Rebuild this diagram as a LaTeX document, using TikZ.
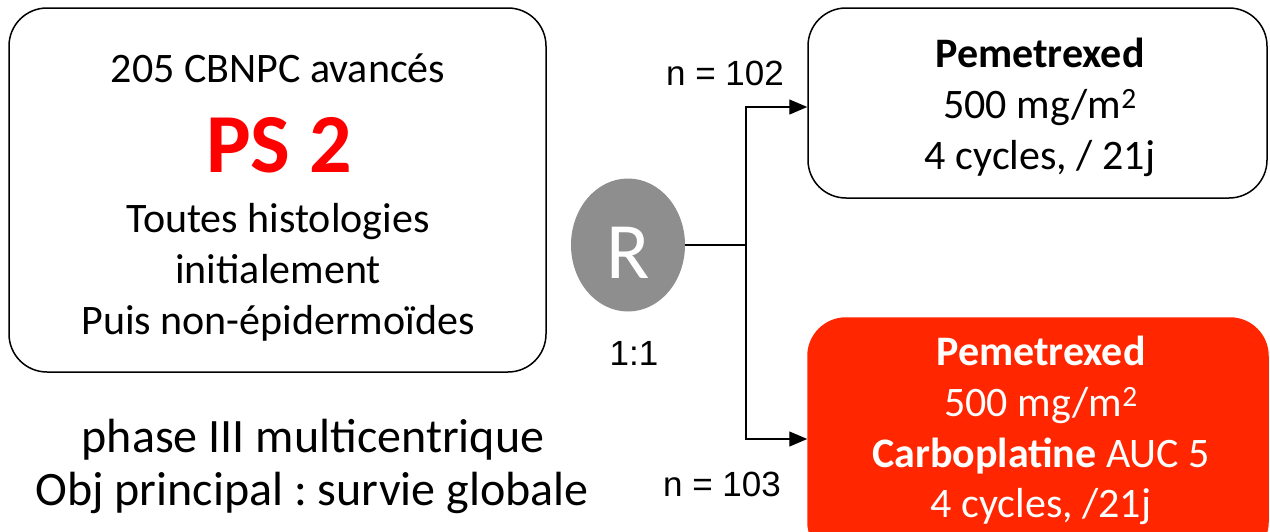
\documentclass[tikz,border=0pt]{standalone}
\usepackage{fontspec}
\setmainfont{Carlito}
\newfontfamily\arialf{Liberation Sans}
\usetikzlibrary{arrows.meta,shapes.geometric}
\definecolor{boxred}{RGB}{255,38,0}
\definecolor{psred}{RGB}{255,0,0}
\definecolor{rgray}{RGB}{142,142,142}
\frenchspacing
\begin{document}
\begin{tikzpicture}[x=1pt,y=-1pt,
  box/.style={draw=black, line width=1.5pt, rounded corners=38pt, inner sep=0pt},
  txt/.style={anchor=base, inner sep=0pt, font=\fontsize{42}{50}\selectfont},
  big/.style={anchor=base, inner sep=0pt, font=\fontsize{48}{56}\selectfont},
  lab/.style={anchor=base, inner sep=0pt, font=\arialf\fontsize{35}{42}\selectfont},
  wtxt/.style={txt, text=white},
  line/.style={line width=1.3pt},
  conn/.style={line width=1.3pt, -{Triangle[length=18pt,width=15pt]}}
]
\useasboundingbox (0,0) rectangle (1270,531);
\clip (0,0) rectangle (1270,531);

% left box
\node[box, minimum width=537pt, minimum height=364pt] (left) at (277.5,190) {};
\node[txt] (l1) at (278,82) {205 CBNPC avancés};
\node[txt, font=\bfseries\fontsize{84}{90}\selectfont, text=psred] (l2) at (279,172) {PS 2};
\node[txt] (l3) at (278,232) {Toutes histologies};
\node[txt] (l4) at (278,283) {initialement};
\node[txt] (l5) at (278,334) {Puis non-épidermoïdes};

% bottom left text
\node[big] (b1) at (313,452) {phase III multicentrique};
\node[big] (b2) at (312,505) {Obj principal : survie globale};

% randomisation
\node[ellipse, fill=rgray, draw=none, minimum width=114pt, minimum height=133pt, inner sep=0pt] (R) at (628,245) {};
\node[txt, font=\fontsize{80}{90}\selectfont, text=white] (Rt) at (628,278) {R};
\node[lab] (n1) at (725,85) {n = 102};
\node[lab] (ratio) at (634,365) {1:1};
\node[lab] (n2) at (722,496) {n = 103};

% right boxes
\node[box, minimum width=459pt, minimum height=190pt] (top) at (1037.5,103) {};
\node[txt, font=\bfseries\fontsize{42}{50}\selectfont] (t1) at (1040,67) {Pemetrexed};
\node[txt] (t2) at (1040,118) {500 mg/m\textsuperscript{2}};
\node[txt] (t3) at (1040,169) {4 cycles, / 21j};

\node[box, draw=boxred, fill=boxred, minimum width=460pt, minimum height=242pt] (bot) at (1038,439) {};
\node[wtxt, font=\bfseries\fontsize{42}{50}\selectfont] (u1) at (1041,365) {Pemetrexed};
\node[wtxt] (u2) at (1041,416) {500 mg/m\textsuperscript{2}};
\node[wtxt] (u3) at (1041,467) {\textbf{Carboplatine} AUC 5};
\node[wtxt] (u4) at (1041,517) {4 cycles, /21j};

% connectors
\coordinate (split) at (746,245);
\draw[line] (R.east) -- (split);
\draw[conn] (split) |- ([yshift=-4pt]top.west);
\draw[conn] (split) |- (bot.west);
\end{tikzpicture}
\end{document}
